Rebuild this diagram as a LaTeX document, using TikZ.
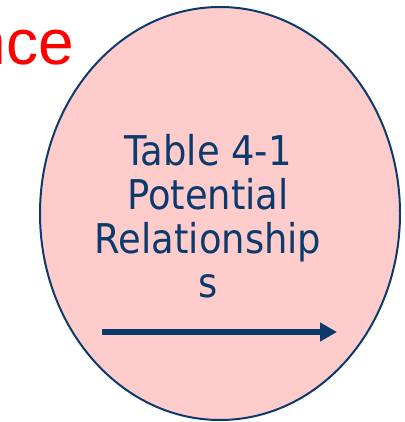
\documentclass[tikz,border=0pt]{standalone}
\usepackage{fontspec}
\usetikzlibrary{arrows.meta}
\newfontfamily\lblfont[FakeStretch=0.9]{DejaVu Sans}
\newfontfamily\redfont{Liberation Sans}
\definecolor{navy}{RGB}{12,58,108}
\definecolor{pinkfill}{RGB}{255,204,204}
\tikzset{
  lbl/.style={font=\lblfont\fontsize{41}{44}\selectfont, text=navy, inner sep=0pt, anchor=base},
  bubble/.style={draw=navy, line width=2pt, fill=pinkfill},
  bigarrow/.style={draw=navy, line width=6pt, -{Triangle[length=17pt,width=18pt]}}
}
\begin{document}
\begin{tikzpicture}[x=1pt,y=-1pt]
\useasboundingbox (0,0) rectangle (404,422);
\node[font=\redfont\fontsize{64}{70}\selectfont, text=red, inner sep=0pt, anchor=base east] (red) at (74,65) {nce};
\draw[bubble] (220,213.5) ellipse [x radius=180, y radius=206.5];
\node[lbl] (l1) at (208,165) {Table 4-1};
\node[lbl] (l2) at (208,209) {Potential};
\node[lbl] (l3) at (208,253) {Relationship};
\node[lbl] (l4) at (208,297) {s};
\coordinate (as) at (102,332);
\coordinate (ae) at (337,332);
\draw[bigarrow] (as) -- (ae);
\end{tikzpicture}
\end{document}
